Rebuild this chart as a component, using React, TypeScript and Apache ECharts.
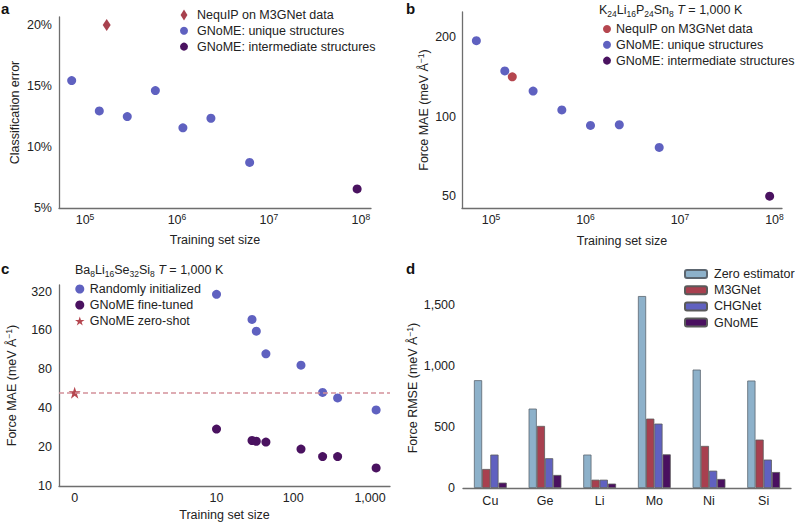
import React, { useEffect, useRef } from 'react';
import * as echarts from 'echarts';

// ---------- Data ----------
// Panel a: classification error vs training set size
const aNequipSize = [172000];
const aNequipErr = [20.0];
const aUniqueSize = [71600, 143000, 288000, 582000, 1160000, 2340000, 6170000];
const aUniqueErr = [15.45, 12.96, 12.5, 14.63, 11.57, 12.36, 8.74];
const aInterSize = [91000000];
const aInterErr = [6.56];
const aYTicks = [5, 10, 15, 20];
const logXTicks = [5, 6, 7, 8];

// Panel b: force MAE vs training set size (K24Li16P24Sn8)
const bNequipSize = [168000];
const bNequipMae = [141.5];
const bUniqueSize = [70000, 140000, 279000, 562000, 1130000, 2280000, 6030000];
const bUniqueMae = [194, 149, 125, 106, 92.6, 93.2, 76.5];
const bInterSize = [89000000];
const bInterMae = [50];
const bYTicks = [50, 100, 200];

// Panel c: fine-tuning (Ba8Li16Se32Si8)
const cSizes = [10, 29, 33, 44, 126, 241, 378, 1200];
const cRandom = [305, 195, 158, 105.6, 86.2, 53, 48.1, 38.8];
const cFineTuned = [27.6, 22.5, 22.2, 21.9, 19.3, 16.9, 16.9, 13.8];
const cZeroShotSize = [0];
const cZeroShotMae = [52.8];
const cYTicks = [10, 20, 40, 80, 160, 320];
const cXTicks = [0, 10, 100, 1000];

// Panel d: force RMSE per element
const dCategories = ['Cu', 'Ge', 'Li', 'Mo', 'Ni', 'Si'];
const dZero = [884, 651, 274, 1574, 971, 881];
const dM3G = [156, 509, 68, 569, 345, 397];
const dCHG = [274, 244, 68, 528, 142, 233];
const dGNoME = [44, 107, 36, 276, 74, 131];
const dYTicks = [0, 500, 1000, 1500];

// ---------- Styles ----------
const FONT = '"Liberation Sans", Arial, Helvetica, sans-serif';
const FS = 12.5;
const TXT = '#222';
const AXIS = '#6e6e6e';
const BLUE = '#5f61c0';
const PURPLE = '#4a1260';
const RED = '#b5464f';
const DIAMOND_RED = '#a8414e';
const ZERO_C = '#8db1ca';
const M3G_C = '#a8404f';
const CHG_C = '#6061c0';
const GNOME_C = '#4a1060';
const DASH_C = '#d4919b';
const STAR = 'path://M50,0L61.8,35.1L98.9,35.1L68.9,56.9L80.3,92.1L50,70.3L19.7,92.1L31.1,56.9L1.1,35.1L38.2,35.1Z';
const DIAMOND = 'path://M5,0L10,8L5,16L0,8Z';

// symlog-like position for the zero training size in panel c
const ZERO_POS = -0.848;
const cPos = (n: number) => (n === 0 ? ZERO_POS : Math.log10(n));

const lg = Math.log10;
const l2 = Math.log2;

const base = { color: TXT, fontFamily: FONT, fontWeight: 'normal' };
const supRich = {
  b: { ...base, fontSize: FS, lineHeight: 16 },
  s: { ...base, fontSize: 8.5, lineHeight: 9, verticalAlign: 'top' },
};
const nameRich = {
  n: { ...base, fontSize: FS, lineHeight: 16 },
  s: { ...base, fontSize: 8.5, lineHeight: 9, verticalAlign: 'top' },
};
const subRich = {
  n: { ...base, fontSize: FS, lineHeight: 16 },
  s: { ...base, fontSize: 8.5, lineHeight: 9, verticalAlign: 'bottom' },
  i: { ...base, fontSize: FS, lineHeight: 16, fontStyle: 'italic' },
};

const axisCommon = {
  axisLine: { onZero: false, lineStyle: { color: AXIS, width: 1.3 } },
  axisTick: { show: false },
  splitLine: { show: false },
  nameTextStyle: { fontSize: FS, color: TXT, fontFamily: FONT, fontWeight: 'normal' },
};
const labelCommon = { fontSize: FS, color: TXT, fontFamily: FONT, fontWeight: 'normal' };

const zip = (xs: number[], ys: number[], fx: (v: number) => number, fy: (v: number) => number) =>
  xs.map((x, i) => [fx(x), fy(ys[i])]);

const legendCommon = {
  orient: 'vertical' as const,
  padding: 0,
  selectedMode: false,
  textStyle: { fontSize: FS, color: TXT, fontFamily: FONT, fontWeight: 'normal', lineHeight: 14 },
};

const letter = (t: string, left: number, top: number) => ({
  text: t, left, top, padding: 0,
  textStyle: { fontSize: 15, fontWeight: 'bold', color: '#111', fontFamily: FONT },
});

export default function App() {
  const ref = useRef<HTMLDivElement>(null);
  useEffect(() => {
    if (!ref.current) return;
    const chart = echarts.init(ref.current, undefined, { renderer: 'svg' });
    const option: any = {
      animation: false,
      backgroundColor: '#fff',
      textStyle: { fontFamily: FONT },
      title: [
        letter('a', 1, 1),
        letter('b', 406, 1),
        letter('c', 1, 261),
        letter('d', 406, 261),
        {
          text: '{n|K}{s|24}{n|Li}{s|16}{n|P}{s|24}{n|Sn}{s|8}{n| }{i|T}{n| = 1,000 K}',
          left: 599, top: 2, padding: 0,
          textStyle: { fontWeight: 'normal', rich: subRich },
        },
        {
          text: '{n|Ba}{s|8}{n|Li}{s|16}{n|Se}{s|32}{n|Si}{s|8}{n| }{i|T}{n| = 1,000 K}',
          left: 75, top: 262, padding: 0,
          textStyle: { fontWeight: 'normal', rich: subRich },
        },
      ],
      legend: [
        {
          ...legendCommon,
          left: 180, top: 8, itemWidth: 8, itemHeight: 11, itemGap: 1.8,
          textStyle: { ...legendCommon.textStyle, padding: [0, 0, 0, 4] },
          data: [
            { name: 'NequIP on M3GNet data', icon: DIAMOND, itemStyle: { color: DIAMOND_RED } },
            { name: 'GNoME: unique structures', icon: 'circle', itemStyle: { color: BLUE } },
            { name: 'GNoME: intermediate structures', icon: 'circle', itemStyle: { color: PURPLE } },
          ],
        },
        {
          ...legendCommon,
          left: 603, top: 22, itemWidth: 8, itemHeight: 8, itemGap: 1.8,
          data: [
            { name: 'NequIP on M3GNet data', icon: 'circle', itemStyle: { color: RED } },
            { name: 'GNoME: unique structures', icon: 'circle', itemStyle: { color: BLUE } },
            { name: 'GNoME: intermediate structures', icon: 'circle', itemStyle: { color: PURPLE } },
          ],
        },
        {
          ...legendCommon,
          left: 75, top: 282, itemWidth: 10, itemHeight: 9, itemGap: 2,
          data: [
            { name: 'Randomly initialized', icon: 'circle', itemStyle: { color: BLUE } },
            { name: 'GNoME fine-tuned', icon: 'circle', itemStyle: { color: PURPLE } },
            { name: 'GNoME zero-shot', icon: STAR, itemStyle: { color: RED } },
          ],
        },
        {
          ...legendCommon,
          left: 684, top: 267, itemWidth: 22, itemHeight: 8, itemGap: 2.2,
          textStyle: { ...legendCommon.textStyle, padding: [0, 0, 0, 2] },
          data: ['Zero estimator', 'M3GNet', 'CHGNet', 'GNoME'],
        },
      ],
      grid: [
        { left: 59, top: 17, width: 312, height: 191 },
        { left: 462, top: 12, width: 320, height: 196 },
        { left: 59, top: 285, width: 331, height: 202 },
        { left: 463, top: 288, width: 328, height: 200 },
      ],
      xAxis: [
        {
          ...axisCommon, type: 'value', gridIndex: 0, min: 4.717, max: 8.11,
          name: 'Training set size', nameLocation: 'middle', nameGap: 25,
          axisLabel: { ...labelCommon, margin: 4, customValues: logXTicks, formatter: (v: number) => `{b|10}{s|${Math.round(v)}}`, rich: supRich },
        },
        {
          ...axisCommon, type: 'value', gridIndex: 1, min: 4.693, max: 8.08,
          name: 'Training set size', nameLocation: 'middle', nameGap: 26,
          axisLabel: { ...labelCommon, margin: 4, customValues: logXTicks, formatter: (v: number) => `{b|10}{s|${Math.round(v)}}`, rich: supRich },
        },
        {
          ...axisCommon, type: 'value', gridIndex: 2, min: -1.052, max: 3.26,
          name: 'Training set size', nameLocation: 'middle', nameGap: 22,
          axisLabel: {
            ...labelCommon, margin: 5, customValues: cXTicks.map(cPos),
            formatter: (v: number) => (v < 0 ? '0' : Math.round(Math.pow(10, v)).toLocaleString('en-US')),
          },
        },
        {
          ...axisCommon, type: 'category', gridIndex: 3, data: dCategories,
          axisLabel: { ...labelCommon, margin: 6 },
        },
      ],
      yAxis: [
        {
          ...axisCommon, type: 'value', gridIndex: 0, min: 5, max: 20.66,
          name: 'Classification error', nameLocation: 'middle', nameGap: 38,
          axisLabel: { ...labelCommon, margin: 7, customValues: aYTicks, formatter: (v: number) => `${Math.round(v)}%` },
        },
        {
          ...axisCommon, type: 'value', gridIndex: 1, min: lg(45.1), max: lg(249),
          name: '{n|Force MAE (meV Å}{s|−1}{n|)}', nameLocation: 'middle', nameGap: 30,
          nameTextStyle: { fontWeight: 'normal', rich: nameRich },
          axisLabel: { ...labelCommon, margin: 6, customValues: bYTicks.map(lg), formatter: (v: number) => String(Math.round(Math.pow(10, v))) },
        },
        {
          ...axisCommon, type: 'value', gridIndex: 2, min: l2(10), max: l2(360),
          name: '{n|Force MAE (meV Å}{s|−1}{n|)}', nameLocation: 'middle', nameGap: 39,
          nameTextStyle: { fontWeight: 'normal', rich: nameRich },
          axisLabel: { ...labelCommon, margin: 7, customValues: cYTicks.map(l2), formatter: (v: number) => String(Math.round(Math.pow(2, v))) },
        },
        {
          ...axisCommon, type: 'value', gridIndex: 3, min: 0, max: 1640,
          name: '{n|Force RMSE (meV Å}{s|−1}{n|)}', nameLocation: 'middle', nameGap: 41,
          nameTextStyle: { fontWeight: 'normal', rich: nameRich },
          axisLabel: { ...labelCommon, margin: 8, customValues: dYTicks, formatter: (v: number) => v.toLocaleString('en-US') },
        },
      ],
      series: [
        // Panel a
        { type: 'scatter', name: 'NequIP on M3GNet data', xAxisIndex: 0, yAxisIndex: 0, symbol: DIAMOND, symbolSize: [8, 12], itemStyle: { color: DIAMOND_RED, opacity: 1 }, data: zip(aNequipSize, aNequipErr, lg, (v) => v) },
        { type: 'scatter', name: 'GNoME: unique structures', xAxisIndex: 0, yAxisIndex: 0, symbolSize: 9, itemStyle: { color: BLUE, opacity: 1 }, data: zip(aUniqueSize, aUniqueErr, lg, (v) => v) },
        { type: 'scatter', name: 'GNoME: intermediate structures', xAxisIndex: 0, yAxisIndex: 0, symbolSize: 9, itemStyle: { color: PURPLE, opacity: 1 }, data: zip(aInterSize, aInterErr, lg, (v) => v) },
        // Panel b
        { type: 'scatter', name: 'GNoME: unique structures', xAxisIndex: 1, yAxisIndex: 1, symbolSize: 9, itemStyle: { color: BLUE, opacity: 1 }, data: zip(bUniqueSize, bUniqueMae, lg, lg) },
        { type: 'scatter', name: 'NequIP on M3GNet data', xAxisIndex: 1, yAxisIndex: 1, symbolSize: 9, itemStyle: { color: RED, opacity: 1 }, data: zip(bNequipSize, bNequipMae, lg, lg) },
        { type: 'scatter', name: 'GNoME: intermediate structures', xAxisIndex: 1, yAxisIndex: 1, symbolSize: 9, itemStyle: { color: PURPLE, opacity: 1 }, data: zip(bInterSize, bInterMae, lg, lg) },
        // Panel c
        { type: 'scatter', name: 'Randomly initialized', xAxisIndex: 2, yAxisIndex: 2, symbolSize: 9, itemStyle: { color: BLUE, opacity: 1 }, data: zip(cSizes, cRandom, cPos, l2) },
        { type: 'scatter', name: 'GNoME fine-tuned', xAxisIndex: 2, yAxisIndex: 2, symbolSize: 9, itemStyle: { color: PURPLE, opacity: 1 }, data: zip(cSizes, cFineTuned, cPos, l2) },
        {
          type: 'scatter', name: 'GNoME zero-shot', xAxisIndex: 2, yAxisIndex: 2, symbol: STAR, symbolSize: 12, itemStyle: { color: RED, opacity: 1 }, z: 3,
          data: zip(cZeroShotSize, cZeroShotMae, cPos, l2),
          markLine: {
            silent: true, symbol: 'none', label: { show: false },
            lineStyle: { color: DASH_C, width: 1.5, type: [5, 3] },
            data: [{ yAxis: l2(cZeroShotMae[0]) }],
          },
        },
        // Panel d
        { type: 'bar', name: 'Zero estimator', xAxisIndex: 3, yAxisIndex: 3, barGap: '0%', barCategoryGap: '40%', itemStyle: { color: ZERO_C, borderColor: '#5c6670', borderWidth: 0.8 }, data: dZero },
        { type: 'bar', name: 'M3GNet', xAxisIndex: 3, yAxisIndex: 3, itemStyle: { color: M3G_C, borderColor: '#5a5a5a', borderWidth: 0.8 }, data: dM3G },
        { type: 'bar', name: 'CHGNet', xAxisIndex: 3, yAxisIndex: 3, itemStyle: { color: CHG_C, borderColor: '#5a5a5a', borderWidth: 0.8 }, data: dCHG },
        { type: 'bar', name: 'GNoME', xAxisIndex: 3, yAxisIndex: 3, itemStyle: { color: GNOME_C, borderColor: '#5a5a5a', borderWidth: 0.8 }, data: dGNoME },
      ],
    };
    chart.setOption(option);
    return () => chart.dispose();
  }, []);
  return <div ref={ref} style={{ position: 'fixed', left: 0, top: 0, width: 795, height: 522, background: '#fff' }} />;
}
